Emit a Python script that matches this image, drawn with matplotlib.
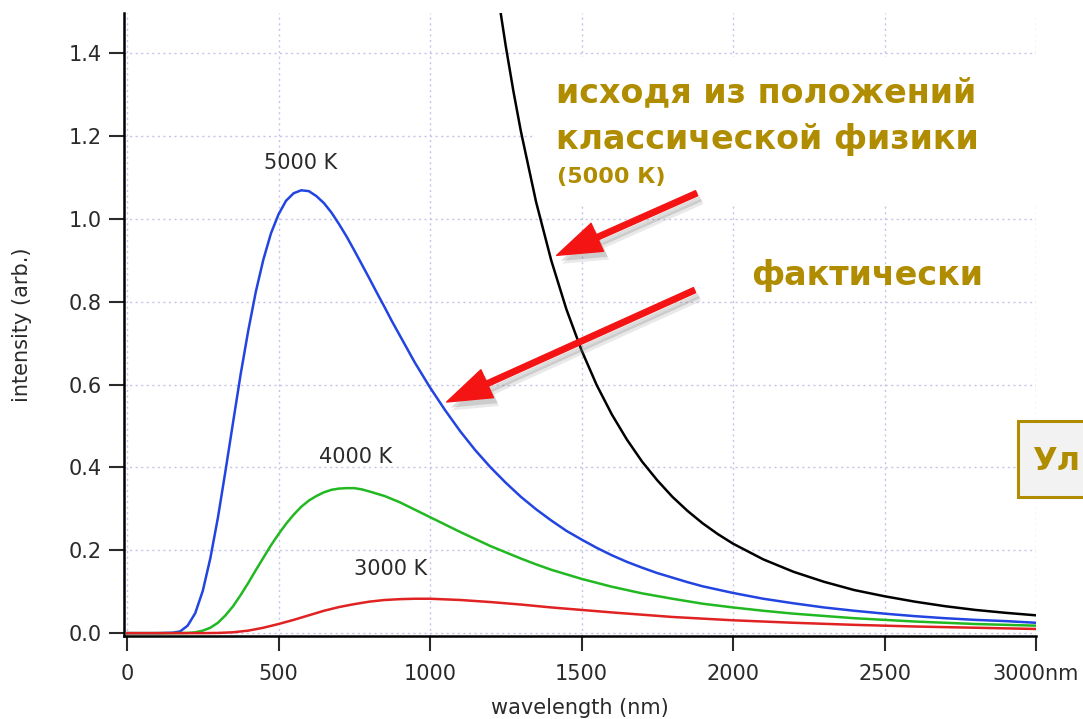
import matplotlib
matplotlib.use("Agg")
import matplotlib.pyplot as plt
import matplotlib.patheffects as pe
from matplotlib.patches import FancyArrowPatch, Rectangle

# данные
wl_5000 = [0, 100, 150, 175, 200, 225, 250, 275, 300, 325, 350, 375, 400, 425, 450, 475, 500,
           525, 550, 575, 600, 625, 650, 675, 700, 725, 750, 775, 800, 825, 850, 875, 900,
           925, 950, 975, 1000, 1050, 1100, 1150, 1200, 1250, 1300, 1350, 1400, 1450, 1500,
           1550, 1600, 1650, 1700, 1750, 1800, 1850, 1900, 1950, 2000, 2100, 2200, 2300, 2400,
           2500, 2600, 2700, 2800, 2900, 3000]
I_5000 = [0, 0, 0.001, 0.004, 0.018, 0.048, 0.102, 0.181, 0.279, 0.392, 0.509, 0.625, 0.730,
          0.824, 0.902, 0.965, 1.011, 1.044, 1.062, 1.069, 1.067, 1.055, 1.038, 1.015, 0.987,
          0.957, 0.924, 0.890, 0.856, 0.821, 0.787, 0.752, 0.719, 0.686, 0.653, 0.623, 0.593,
          0.538, 0.487, 0.441, 0.400, 0.363, 0.329, 0.299, 0.272, 0.247, 0.226, 0.206, 0.188,
          0.172, 0.158, 0.145, 0.134, 0.123, 0.113, 0.105, 0.097, 0.083, 0.072, 0.062, 0.054,
          0.047, 0.041, 0.036, 0.032, 0.029, 0.025]

wl_4000 = [0, 150, 200, 225, 250, 275, 300, 325, 350, 375, 400, 425, 450, 475, 500, 525, 550,
           575, 600, 625, 650, 675, 700, 725, 750, 775, 800, 850, 900, 950, 1000, 1050, 1100,
           1150, 1200, 1250, 1300, 1350, 1400, 1450, 1500, 1600, 1700, 1800, 1900, 2000, 2100,
           2200, 2400, 2600, 2800, 3000]
I_4000 = [0, 0, 0.0005, 0.002, 0.006, 0.013, 0.025, 0.043, 0.065, 0.092, 0.121, 0.152, 0.182,
          0.212, 0.239, 0.264, 0.286, 0.305, 0.320, 0.331, 0.340, 0.346, 0.349, 0.350, 0.350,
          0.347, 0.342, 0.331, 0.316, 0.298, 0.280, 0.262, 0.244, 0.227, 0.210, 0.195, 0.180,
          0.166, 0.153, 0.142, 0.131, 0.112, 0.096, 0.083, 0.071, 0.062, 0.054, 0.047, 0.036,
          0.028, 0.022, 0.018]

wl_3000 = [0, 250, 300, 350, 400, 450, 500, 550, 600, 650, 700, 750, 800, 850, 900, 950, 1000,
           1100, 1200, 1300, 1400, 1500, 1600, 1800, 2000, 2200, 2400, 2600, 2800, 3000]
I_3000 = [0, 0, 0.0005, 0.002, 0.006, 0.013, 0.022, 0.032, 0.043, 0.054, 0.063, 0.070, 0.076,
          0.080, 0.082, 0.083, 0.083, 0.080, 0.075, 0.069, 0.062, 0.056, 0.050, 0.039, 0.031,
          0.025, 0.020, 0.016, 0.013, 0.010]

# классическая кривая (5000 K)
wl_cl = [1200, 1225, 1250, 1275, 1300, 1350, 1400, 1450, 1500, 1550, 1600, 1650, 1700, 1750,
         1800, 1850, 1900, 1950, 2000, 2100, 2200, 2300, 2400, 2500, 2600, 2700, 2800, 2900,
         3000]
I_cl = [1.668, 1.536, 1.417, 1.309, 1.211, 1.041, 0.900, 0.782, 0.683, 0.599, 0.528, 0.467,
        0.414, 0.369, 0.329, 0.295, 0.265, 0.239, 0.216, 0.178, 0.148, 0.124, 0.104, 0.089,
        0.076, 0.065, 0.056, 0.049, 0.043]

x_ticks = [0, 500, 1000, 1500, 2000, 2500, 3000]
x_labels = ["0", "500", "1000", "1500", "2000", "2500", "3000nm"]
y_ticks = [0.0, 0.2, 0.4, 0.6, 0.8, 1.0, 1.2, 1.4]

gold = "#b08c00"
txt = "#2a2a2a"

fig = plt.figure(figsize=(10.83, 7.19), dpi=100)
ax = fig.add_axes([0.1145, 0.1154, 0.8421, 0.8665])

ax.plot(wl_5000, I_5000, color="#2244e0", lw=1.8, zorder=3)
ax.plot(wl_4000, I_4000, color="#22b822", lw=1.8, zorder=3)
ax.plot(wl_3000, I_3000, color="#e02222", lw=1.8, zorder=3)
ax.plot(wl_cl, I_cl, color="black", lw=1.8, zorder=3)

ax.set_xlim(-10, 3000)
ax.set_ylim(-0.007, 1.497)
ax.set_xticks(x_ticks)
ax.set_xticklabels(x_labels)
ax.set_yticks(y_ticks)
ax.set_yticklabels([f"{v:.1f}" for v in y_ticks])
ax.tick_params(direction="out", length=11, width=1.5, labelsize=15, colors=txt, pad=5)
ax.tick_params(axis="x", pad=9)

for s in ["top", "right"]:
    ax.spines[s].set_visible(False)
for s in ["left", "bottom"]:
    ax.spines[s].set_linewidth(1.8)

ax.set_axisbelow(True)
ax.grid(True, color="#c4c4ea", linestyle=(0, (1.5, 2.5)), linewidth=1.0)

ax.set_xlabel("wavelength (nm)", fontsize=15, color=txt, labelpad=10)
ax.set_ylabel("intensity (arb.)", fontsize=15, color=txt, labelpad=26)

# подписи кривых
ax.text(574, 1.134, "5000 K", ha="center", va="center", fontsize=15, color=txt)
ax.text(755, 0.425, "4000 K", ha="center", va="center", fontsize=15, color=txt)
ax.text(871, 0.155, "3000 K", ha="center", va="center", fontsize=15, color=txt)

# белая подложка под надписью
ax.add_patch(Rectangle((1345, 1.035), 2000, 0.355, facecolor="white", edgecolor="none",
                       zorder=1.5, clip_on=False))

fig.text(556 / 1083, 1 - 93 / 719, "исходя из положений", fontsize=24, fontweight="bold",
         color=gold, ha="left", va="center")
fig.text(556 / 1083, 1 - 139 / 719, "классической физики", fontsize=24, fontweight="bold",
         color=gold, ha="left", va="center")
fig.text(557 / 1083, 1 - 177 / 719, "(5000 К)", fontsize=16, fontweight="bold",
         color=gold, ha="left", va="center")
fig.text(751 / 1083, 1 - 275 / 719, "фактически", fontsize=24, fontweight="bold",
         color=gold, ha="left", va="center")

# стрелки
shadow = [pe.SimplePatchShadow(offset=(4, -6), shadow_rgbFace="#888888", alpha=0.18),
          pe.SimplePatchShadow(offset=(3, -4), shadow_rgbFace="#777777", alpha=0.25),
          pe.Normal()]
for tail, tip in [((1880, 1.062), (1418, 0.912)), ((1873, 0.828), (1055, 0.558))]:
    arr = FancyArrowPatch(tail, tip,
                          arrowstyle="simple,head_length=0.8,head_width=0.55,tail_width=0.1",
                          mutation_scale=40, color="#f41414", zorder=5, clip_on=False,
                          shrinkA=0, shrinkB=0)
    arr.set_path_effects(shadow)
    ax.add_patch(arr)

# обрезанная плашка справа
fig.patches.append(Rectangle((1018 / 1083, 1 - 497 / 719), 0.1, 76 / 719,
                             transform=fig.transFigure, facecolor="#f2f2f2",
                             edgecolor=gold, linewidth=2.2, zorder=6))
fig.text(1032 / 1083, 1 - 461 / 719, "Ул", fontsize=23, fontweight="bold",
         color=gold, ha="left", va="center", zorder=7)

fig.savefig("out.png", dpi=100)
